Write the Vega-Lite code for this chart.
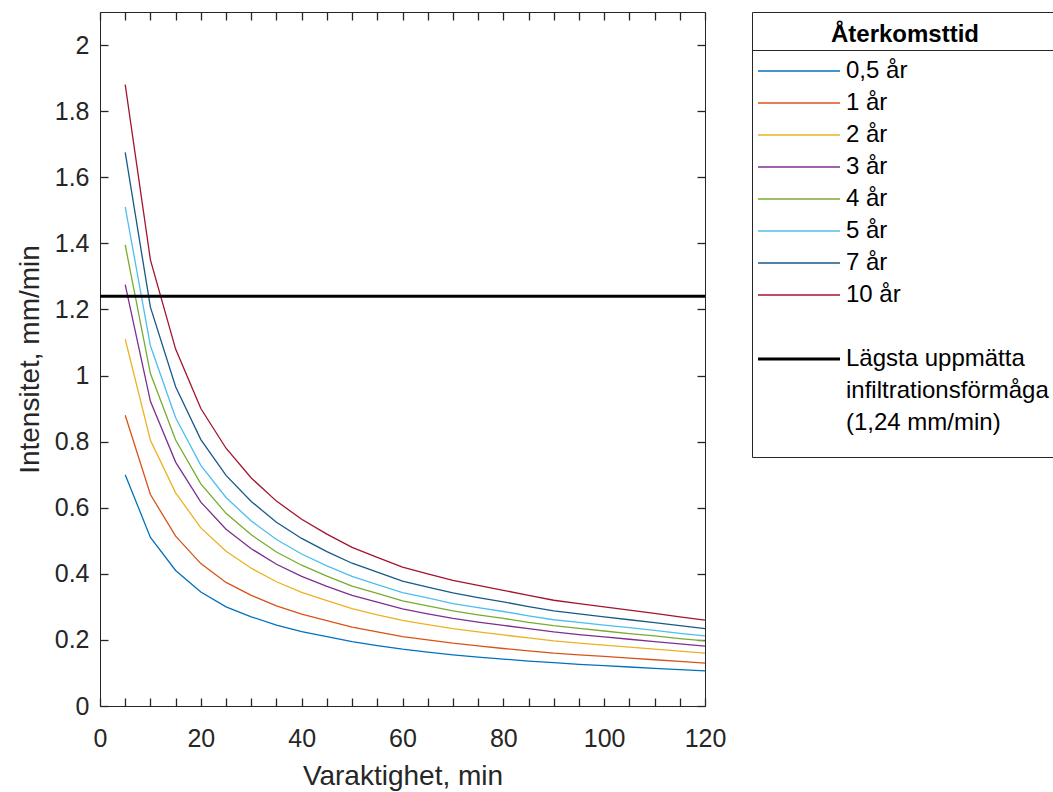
{
  "$schema": "https://vega.github.io/schema/vega-lite/v6.json",
  "autosize": {"type": "none"},
  "padding": {"left": 100, "top": 12, "right": 348, "bottom": 86},
  "width": 605,
  "height": 694,
  "background": "white",
  "config": {
    "view": {"stroke": "#262626", "strokeWidth": 1},
    "font": "Liberation Sans",
    "axis": {
      "labelFont": "Liberation Sans", "titleFont": "Liberation Sans",
      "labelFontSize": 25, "titleFontSize": 28, "titleFontWeight": "normal",
      "labelColor": "#262626", "titleColor": "#262626",
      "ticks": true, "tickSize": 8, "tickColor": "#262626", "tickWidth": 1.3, "offset": -8, "zindex": 1,
      "domain": false, "grid": false, "labelFlush": false, "labelOverlap": false
    },
    "legend": {"labelFont": "Liberation Sans", "titleFont": "Liberation Sans"}
  },
  "datasets": {
    "kurvor": [
      {"t": 5, "0,5 år": 0.70, "1 år": 0.88, "2 år": 1.11, "3 år": 1.275, "4 år": 1.395, "5 år": 1.51, "7 år": 1.675, "10 år": 1.88},
      {"t": 10, "0,5 år": 0.51, "1 år": 0.64, "2 år": 0.804, "3 år": 0.922, "4 år": 1.006, "5 år": 1.09, "7 år": 1.207, "10 år": 1.35},
      {"t": 15, "0,5 år": 0.41, "1 år": 0.514, "2 år": 0.645, "3 år": 0.738, "4 år": 0.805, "5 år": 0.872, "7 år": 0.966, "10 år": 1.08},
      {"t": 20, "0,5 år": 0.345, "1 år": 0.431, "2 år": 0.539, "3 år": 0.617, "4 år": 0.672, "5 år": 0.728, "7 år": 0.806, "10 år": 0.90},
      {"t": 25, "0,5 år": 0.30, "1 år": 0.374, "2 år": 0.468, "3 år": 0.535, "4 år": 0.583, "5 år": 0.631, "7 år": 0.698, "10 år": 0.78},
      {"t": 30, "0,5 år": 0.27, "1 år": 0.335, "2 år": 0.417, "3 år": 0.476, "4 år": 0.518, "5 år": 0.56, "7 år": 0.619, "10 år": 0.69},
      {"t": 35, "0,5 år": 0.245, "1 år": 0.303, "2 år": 0.376, "3 år": 0.429, "4 år": 0.466, "5 år": 0.504, "7 år": 0.556, "10 år": 0.62},
      {"t": 40, "0,5 år": 0.225, "1 år": 0.278, "2 år": 0.344, "3 år": 0.392, "4 år": 0.426, "5 år": 0.46, "7 år": 0.507, "10 år": 0.565},
      {"t": 45, "0,5 år": 0.21, "1 år": 0.258, "2 år": 0.319, "3 år": 0.362, "4 år": 0.393, "5 år": 0.424, "7 år": 0.467, "10 år": 0.52},
      {"t": 50, "0,5 år": 0.195, "1 år": 0.239, "2 år": 0.295, "3 år": 0.335, "4 år": 0.363, "5 år": 0.392, "7 år": 0.432, "10 år": 0.48},
      {"t": 55, "0,5 år": 0.183, "1 år": 0.224, "2 år": 0.276, "3 år": 0.314, "4 år": 0.341, "5 år": 0.367, "7 år": 0.405, "10 år": 0.45},
      {"t": 60, "0,5 år": 0.172, "1 år": 0.21, "2 år": 0.259, "3 år": 0.294, "4 år": 0.318, "5 år": 0.343, "7 år": 0.378, "10 år": 0.42},
      {"t": 65, "0,5 år": 0.163, "1 år": 0.2, "2 år": 0.246, "3 år": 0.279, "4 år": 0.303, "5 år": 0.327, "7 år": 0.36, "10 år": 0.40},
      {"t": 70, "0,5 år": 0.155, "1 år": 0.19, "2 år": 0.234, "3 år": 0.265, "4 år": 0.288, "5 år": 0.31, "7 år": 0.342, "10 år": 0.38},
      {"t": 75, "0,5 år": 0.148, "1 år": 0.182, "2 år": 0.224, "3 år": 0.254, "4 år": 0.276, "5 år": 0.298, "7 år": 0.328, "10 år": 0.365},
      {"t": 80, "0,5 år": 0.142, "1 år": 0.174, "2 år": 0.215, "3 år": 0.244, "4 år": 0.265, "5 år": 0.286, "7 år": 0.315, "10 år": 0.35},
      {"t": 85, "0,5 år": 0.136, "1 år": 0.167, "2 år": 0.206, "3 år": 0.234, "4 år": 0.253, "5 år": 0.273, "7 år": 0.301, "10 år": 0.335},
      {"t": 90, "0,5 år": 0.131, "1 år": 0.16, "2 år": 0.197, "3 år": 0.224, "4 år": 0.243, "5 år": 0.261, "7 år": 0.288, "10 år": 0.32},
      {"t": 95, "0,5 år": 0.126, "1 år": 0.155, "2 år": 0.19, "3 år": 0.216, "4 år": 0.235, "5 år": 0.253, "7 år": 0.279, "10 år": 0.31},
      {"t": 100, "0,5 år": 0.122, "1 år": 0.15, "2 år": 0.184, "3 år": 0.209, "4 år": 0.227, "5 år": 0.245, "7 år": 0.27, "10 år": 0.30},
      {"t": 105, "0,5 år": 0.118, "1 år": 0.145, "2 år": 0.178, "3 år": 0.202, "4 år": 0.219, "5 år": 0.237, "7 år": 0.261, "10 år": 0.29},
      {"t": 110, "0,5 år": 0.114, "1 år": 0.14, "2 år": 0.172, "3 år": 0.195, "4 år": 0.212, "5 år": 0.229, "7 år": 0.252, "10 år": 0.28},
      {"t": 115, "0,5 år": 0.11, "1 år": 0.135, "2 år": 0.166, "3 år": 0.188, "4 år": 0.204, "5 år": 0.22, "7 år": 0.243, "10 år": 0.27},
      {"t": 120, "0,5 år": 0.106, "1 år": 0.13, "2 år": 0.16, "3 år": 0.181, "4 år": 0.197, "5 år": 0.212, "7 år": 0.234, "10 år": 0.26}
    ],
    "grans": [
      {"t": 0, "intensitet": 1.24, "serie": "Lägsta uppmätta"},
      {"t": 120, "intensitet": 1.24, "serie": "Lägsta uppmätta"}
    ]
  },
  "layer": [
    {
      "data": {"name": "kurvor"},
      "transform": [
        {"fold": ["0,5 år", "1 år", "2 år", "3 år", "4 år", "5 år", "7 år", "10 år"], "as": ["serie", "intensitet"]}
      ],
      "mark": {"type": "line", "strokeWidth": 1.3, "clip": true},
      "encoding": {
        "x": {
          "field": "t", "type": "quantitative",
          "scale": {"domain": [0, 120], "nice": false, "zero": false},
          "axis": {
            "orient": "bottom", "title": "Varaktighet, min",
            "values": [0, 5, 10, 15, 20, 25, 30, 35, 40, 45, 50, 55, 60, 65, 70, 75, 80, 85, 90, 95, 100, 105, 110, 115, 120],
            "labelExpr": "datum.value % 20 === 0 ? datum.label : ''",
            "labelPadding": 20, "titleX": 302.5, "titleY": 78, "titleBaseline": "middle"
          }
        },
        "y": {
          "field": "intensitet", "type": "quantitative",
          "scale": {"domain": [0, 2.1], "nice": false},
          "axis": {
            "orient": "left", "title": "Intensitet, mm/min",
            "values": [0, 0.2, 0.4, 0.6, 0.8, 1, 1.2, 1.4, 1.6, 1.8, 2],
            "format": "~g", "labelPadding": 11,
            "titleX": -78, "titleY": 347, "titleBaseline": "middle"
          }
        },
        "color": {
          "field": "serie", "type": "nominal",
          "scale": {
            "domain": ["0,5 år", "1 år", "2 år", "3 år", "4 år", "5 år", "7 år", "10 år", " ", "Lägsta uppmätta", "infiltrationsförmåga", "(1,24 mm/min)", "  "],
            "range": ["#0072BD", "#D95319", "#EDB120", "#7E2F8E", "#77AC30", "#4DBEEE", "#165A8A", "#A2142F", "transparent", "#000000", "transparent", "transparent", "transparent"]
          },
          "legend": {
            "title": "Återkomsttid", "orient": "right", "offset": 41, "padding": 0,
            "strokeColor": "#262626", "fillColor": "white",
            "titleFontSize": 24, "titleFontWeight": "bold", "titleColor": "#000000",
            "titleAnchor": "middle", "titlePadding": 14,
            "labelFontSize": 24, "labelColor": "#000000", "labelOffset": 35, "labelLimit": 400,
            "symbolType": "M-4.1,0H4.1", "symbolSize": 400, "symbolOffset": 35, "symbolStrokeWidth": 1.3,
            "rowPadding": 6,
            "encode": {
              "title": {"update": {"dy": {"value": 11}}},
              "symbols": {"update": {
                "strokeWidth": {"signal": "datum.value === 'Lägsta uppmätta' ? 3 : 1.3"},
                "shape": {"signal": "datum.index === 0 ? 'M-4.1,0H4.1M25.5,0' : 'M-4.1,0H4.1'"},
                "y": {"signal": "datum.index === 0 ? 21 : 10"}
              }},
              "labels": {"update": {
                "fontSize": {"signal": "datum.value === '  ' ? 8 : 24"},
                "y": {"signal": "datum.index === 0 ? 21 : 10"}
              }},
              "entries": {"update": {
                "stroke": {"signal": "datum.index === 0 ? '#262626' : 'transparent'"},
                "strokeWidth": {"value": 1},
                "strokeDash": {"signal": "datum.index === 0 ? [301, 100000] : []"}
              }}
            }
          }
        }
      }
    },
    {
      "data": {"name": "grans"},
      "mark": {"type": "line", "strokeWidth": 3},
      "encoding": {
        "x": {
          "field": "t", "type": "quantitative",
          "axis": {
            "orient": "top", "title": null, "labels": false,
            "values": [0, 5, 10, 15, 20, 25, 30, 35, 40, 45, 50, 55, 60, 65, 70, 75, 80, 85, 90, 95, 100, 105, 110, 115, 120]
          }
        },
        "y": {
          "field": "intensitet", "type": "quantitative",
          "axis": {
            "orient": "right", "title": null, "labels": false,
            "values": [0, 0.2, 0.4, 0.6, 0.8, 1, 1.2, 1.4, 1.6, 1.8, 2]
          }
        },
        "color": {"field": "serie", "type": "nominal"}
      }
    }
  ]
}
